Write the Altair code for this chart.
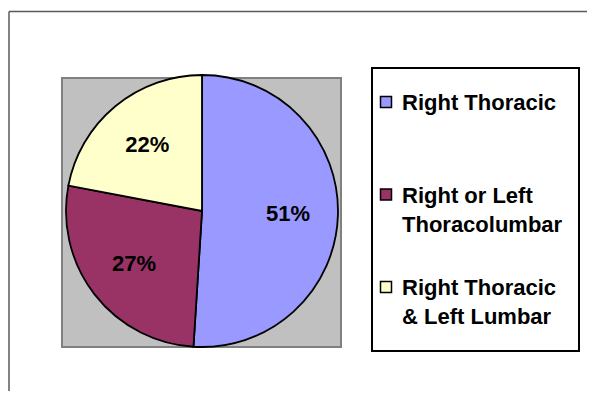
import altair as alt
import pandas as pd

categories = ["Right Thoracic", "Right or Left Thoracolumbar", "Right Thoracic & Left Lumbar"]
legend_lines = ["Right Thoracic", "Right or Left\nThoracolumbar", "Right Thoracic\n& Left Lumbar"]
values = [51, 27, 22]
pct_labels = ["51%", "27%", "22%"]
colors = ["#9999FF", "#993366", "#FFFFCC"]

df = pd.DataFrame({
    "category": categories,
    "value": values,
    "pct": pct_labels,
    "order": list(range(len(categories))),
    "legend": legend_lines,
})

FONT = "Liberation Sans"
W, H = 579, 383
CX, CY, R = 194, 203, 136

color_scale = alt.Scale(domain=categories, range=colors)

base = alt.Chart(df)
one = base.transform_filter("datum.order == 0")

frame_top = one.mark_rule(color="#5a5a5a", strokeWidth=1.5).encode(
    x=alt.value(1), x2=alt.value(W + 20), y=alt.value(3.5)
)
frame_left = one.mark_rule(color="#5a5a5a", strokeWidth=1.5).encode(
    x=alt.value(1), y=alt.value(3.5), y2=alt.value(H + 20)
)

plot_bg = one.mark_rect(fill="#C0C0C0", stroke="#808080", strokeWidth=2).encode(
    x=alt.value(54), x2=alt.value(333), y=alt.value(70), y2=alt.value(339)
)

pie = base.mark_arc(outerRadius=R, stroke="black", strokeWidth=1.8).encode(
    theta=alt.Theta("value:Q", stack=True),
    color=alt.Color("category:N", scale=color_scale, legend=None),
    order=alt.Order("order:Q"),
    x=alt.value(CX), y=alt.value(CY),
)

pie_text = base.mark_text(radius=86, font=FONT, fontWeight="bold", fontSize=22,
                          color="black", align="center", baseline="middle").encode(
    theta=alt.Theta("value:Q", stack=True),
    order=alt.Order("order:Q"),
    text="pct:N",
    x=alt.value(CX), y=alt.value(CY),
)

legend_box = one.mark_rect(fill="white", stroke="black", strokeWidth=2).encode(
    x=alt.value(364), x2=alt.value(571), y=alt.value(60), y2=alt.value(343)
)

ypos = alt.Y("order:Q", scale=alt.Scale(domain=[0, 2], range=[94, 279]), axis=None)

legend_sym = base.mark_square(size=121, stroke="black", strokeWidth=1.5, opacity=1).encode(
    x=alt.value(378),
    y=ypos,
    color=alt.Color("category:N", scale=color_scale, legend=None),
)

legend_text = base.mark_text(font=FONT, fontWeight="bold", fontSize=22, align="left",
                             baseline="alphabetic", dy=8, lineBreak="\n", lineHeight=29,
                             color="black").encode(
    x=alt.value(394),
    y=ypos,
    text="legend:N",
)

chart = alt.layer(frame_top, frame_left, plot_bg, pie, pie_text, legend_box, legend_sym,
                  legend_text).properties(
    width=W, height=H, autosize=alt.AutoSizeParams(type="none"), padding=0, background="white"
).configure_view(strokeWidth=0)

chart.save("out.html", embed_options={"renderer": "svg", "actions": False})
